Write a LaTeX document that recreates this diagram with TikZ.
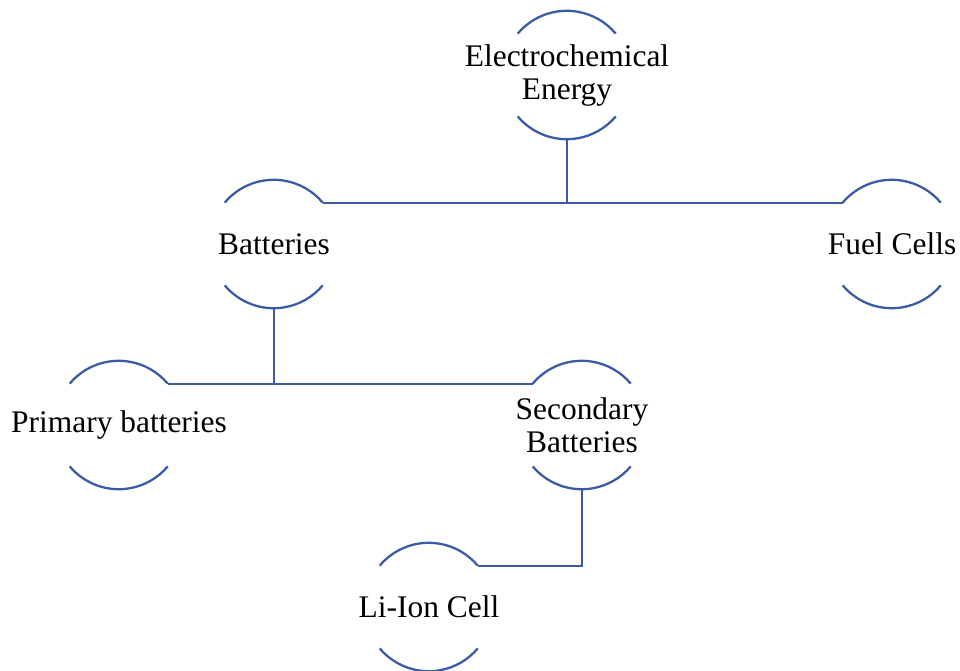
\documentclass[tikz,border=0pt]{standalone}
\usepackage{fontspec}
\setmainfont{Liberation Serif}
\usetikzlibrary{positioning}
\definecolor{ringblue}{RGB}{59,91,165}

\begin{document}
\begin{tikzpicture}[
x=0.02cm, y=-0.02cm,
ring/.style={circle, inner sep=0pt, minimum size=2.56cm},
caption/.style={font=\fontsize{17.9}{18.8}\selectfont, align=center, inner sep=0pt},
halfarc/.style={ringblue, line width=1.3pt},
link/.style={ringblue, line width=1.3pt}
]
\useasboundingbox (0,0) rectangle (960,670);
\node[ring] (energy) at (567,75) {};
\node[ring] (batt) at (274,244) {};
\node[ring] (fuel) at (892,244) {};
\node[ring] (prim) at (119,425) {};
\node[ring] (sec) at (582,425) {};
\node[ring] (liion) at (429,607) {};
\node[caption] (energy-t) at (energy) {Electrochemical\\Energy};
\node[caption] (batt-t) at (batt) {Batteries};
\node[caption] (fuel-t) at (fuel) {Fuel Cells};
\node[caption] (prim-t) at (prim) {Primary batteries};
\node[caption] (sec-t) at (sec) {Secondary\\Batteries};
\node[caption] (liion-t) at (liion) {Li-Ion Cell};
\foreach \n in {energy,batt,fuel,prim,sec,liion} {
  \draw[halfarc] (\n.140) arc[start angle=140, end angle=40, radius=1.28cm];
  \draw[halfarc] (\n.220) arc[start angle=220, end angle=320, radius=1.28cm];
}
\draw[link] (batt.40) -- (fuel.140);
\draw[link] (energy.south) -- (energy.south |- batt.40);
\draw[link] (prim.40) -- (sec.140);
\draw[link] (batt.south) -- (batt.south |- prim.40);
\draw[link] (sec.south) |- (liion.40);
\end{tikzpicture}
\end{document}
